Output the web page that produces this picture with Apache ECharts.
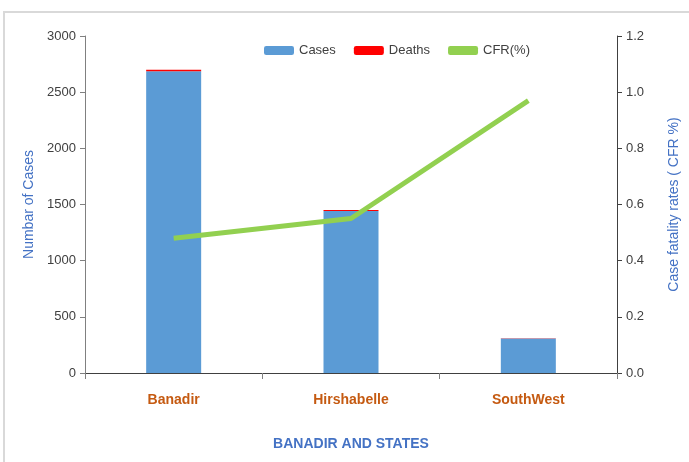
<!DOCTYPE html>
<html>
<head>
<meta charset="utf-8">
<script src="https://cdn.jsdelivr.net/npm/echarts@6/dist/echarts.min.js"></script>
<style>
  html, body { margin: 0; padding: 0; background: #fff; }
  #chart { width: 689px; height: 462px; }
</style>
</head>
<body>
<div id="chart"></div>
<script>
const states = ['Banadir', 'Hirshabelle', 'SouthWest'];
const cases = [2686, 1443, 307];
const deaths = [13, 8, 3];
const cfr = [0.48, 0.55, 0.97];

const font = '"Liberation Sans Narrow", "Liberation Sans", sans-serif';

const chart = echarts.init(document.getElementById('chart'), null, { renderer: 'canvas' });

chart.setOption({
  backgroundColor: '#fff',
  animation: false,
  textStyle: { fontFamily: font },
  graphic: [{
    type: 'rect',
    shape: { x: 4, y: 12, width: 720, height: 480 },
    style: { fill: 'none', stroke: '#d9d9d9', lineWidth: 2 }
  }],
  grid: { left: 85, right: 64, top: 36, bottom: 89 },
  legend: {
    left: 259,
    top: 39,
    itemWidth: 30,
    itemHeight: 9,
    itemGap: 18,
    textStyle: { color: '#404040', fontSize: 13, fontFamily: font },
    data: [
      { name: 'Cases' },
      { name: 'Deaths' },
      { name: 'CFR(%)', icon: 'roundRect', itemStyle: { color: '#92D050' } }
    ]
  },
  xAxis: {
    type: 'category',
    data: states,
    name: 'BANADIR AND STATES',
    nameLocation: 'middle',
    nameGap: 64,
    nameTextStyle: { color: '#4472C4', fontSize: 14, fontWeight: 'bold', fontFamily: font },
    axisLine: { lineStyle: { color: '#404040', width: 1 } },
    axisTick: { show: true, length: 6, lineStyle: { color: '#808080' } },
    axisLabel: { color: '#C55A11', fontSize: 14, fontWeight: 'bold', margin: 20, fontFamily: font },
    splitLine: { show: false }
  },
  yAxis: [
    {
      type: 'value',
      min: 0,
      max: 3000,
      interval: 500,
      name: 'Numbar of Cases',
      nameLocation: 'middle',
      nameGap: 46,
      nameRotate: 90,
      nameTextStyle: { color: '#4472C4', fontSize: 14, fontFamily: font },
      axisLine: { show: true, lineStyle: { color: '#808080' } },
      axisTick: { show: true, length: 5, lineStyle: { color: '#808080' } },
      axisLabel: { color: '#404040', fontSize: 13, margin: 9, fontFamily: font, formatter: v => String(v) },
      splitLine: { show: false }
    },
    {
      type: 'value',
      min: 0,
      max: 1.2,
      interval: 0.2,
      name: 'Case fatality rates ( CFR %)',
      nameLocation: 'middle',
      nameGap: 50,
      nameRotate: 90,
      nameTextStyle: { color: '#4472C4', fontSize: 14, fontFamily: font },
      axisLine: { show: true, lineStyle: { color: '#404040' } },
      axisTick: { show: true, length: 5, lineStyle: { color: '#404040' } },
      axisLabel: {
        color: '#404040', fontSize: 13, margin: 9, fontFamily: font,
        formatter: v => v.toFixed(1)
      },
      splitLine: { show: false }
    }
  ],
  series: [
    {
      name: 'Cases',
      type: 'bar',
      stack: 'total',
      barWidth: 55,
      data: cases,
      itemStyle: { color: '#5B9BD5' }
    },
    {
      name: 'Deaths',
      type: 'bar',
      stack: 'total',
      barWidth: 55,
      data: deaths,
      itemStyle: { color: '#FF0000' }
    },
    {
      name: 'CFR(%)',
      type: 'line',
      yAxisIndex: 1,
      data: cfr,
      symbol: 'none',
      lineStyle: { color: '#92D050', width: 5 },
      itemStyle: { color: '#92D050' }
    }
  ]
});
</script>
</body>
</html>
